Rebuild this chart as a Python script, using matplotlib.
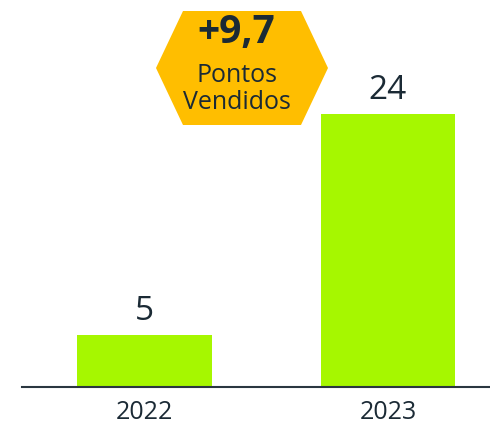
import matplotlib
matplotlib.use('Agg')
import matplotlib.pyplot as plt
from matplotlib.patches import Polygon

plt.rcParams['font.family'] = ['Open Sans', 'DejaVu Sans']

years = ['2022', '2023']
values = [5, 24]
badge_value = '+9,7'
badge_label = 'Pontos\nVendidos'

BAR_COLOUR = '#a6f700'
TEXT_COLOUR = '#1b2a35'
BADGE_COLOUR = '#ffbe00'

W, H = 490, 423
fig = plt.figure(figsize=(W / 100, H / 100), dpi=100)
fig.patch.set_facecolor('white')

# axes placed in pixel terms: baseline at y=387, left edge x=22
ax = fig.add_axes([22 / W, 1 - 387 / H, 1 - 22 / W, 387 / H])
x = list(range(len(years)))
ax.bar(x, values, width=0.554, color=BAR_COLOUR)
ax.set_xlim(-0.503, 1.419)
ax.set_ylim(0.53, 0.53 + 387 / 11.63)

for xi, v in zip(x, values):
    ax.text(xi, v + 0.6, str(v), ha='center', va='bottom', fontsize=24, color=TEXT_COLOUR)

ax.set_xticks(x)
ax.set_xticklabels(years, fontsize=18, color=TEXT_COLOUR)
ax.tick_params(axis='x', length=0, pad=9)
ax.set_yticks([])
for side in ['top', 'right', 'left']:
    ax.spines[side].set_visible(False)
ax.spines['bottom'].set_color('#2a3640')
ax.spines['bottom'].set_linewidth(1.5)
ax.patch.set_alpha(0)

# hexagon badge
hex_px = [(156, 68), (183, 11), (301, 11), (328, 68), (301, 125), (183, 125)]
hex_fig = [(px / W, 1 - py / H) for px, py in hex_px]
fig.patches.append(Polygon(hex_fig, closed=True, facecolor=BADGE_COLOUR,
                           edgecolor='none', transform=fig.transFigure))
fig.text(236 / W, 1 - 33 / H, badge_value, ha='center', va='center',
         fontsize=28, fontweight='bold', color=TEXT_COLOUR)
fig.text(237 / W, 1 - 89 / H, badge_label, ha='center', va='center',
         fontsize=18, color=TEXT_COLOUR, linespacing=1.15)

fig.savefig('out.png', dpi=100)
